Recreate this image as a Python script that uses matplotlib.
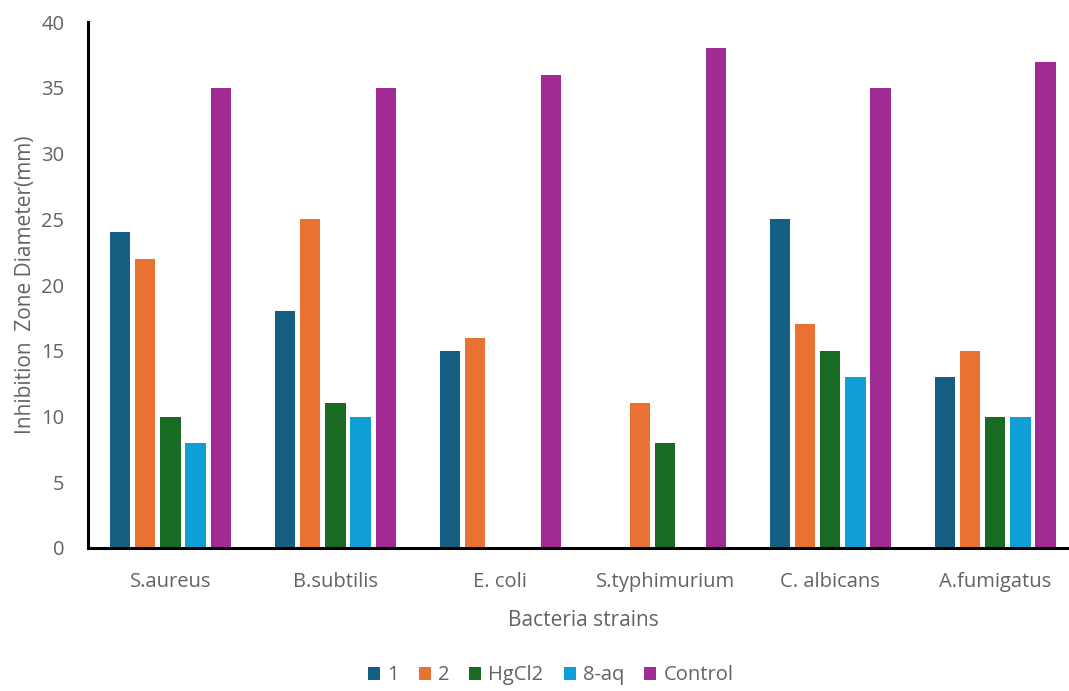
import numpy as np
import matplotlib.pyplot as plt

strains = ['S.aureus', 'B.subtilis', 'E. coli', 'S.typhimurium', 'C. albicans', 'A.fumigatus']
series_names = ['1', '2', 'HgCl2', '8-aq', 'Control']
vals_1 = [24, 18, 15, 0, 25, 13]
vals_2 = [22, 25, 16, 11, 17, 15]
vals_hgcl2 = [10, 11, 0, 8, 15, 10]
vals_8aq = [8, 10, 0, 0, 13, 10]
vals_control = [35, 35, 36, 38, 35, 37]
colors = ['#156082', '#E97132', '#196B24', '#0F9ED5', '#A02B93']

plt.rcParams['font.family'] = ['Open Sans', 'DejaVu Sans']
grey = '#636363'

fig = plt.figure(figsize=(10.69, 6.91), dpi=100)
ax = fig.add_axes([0.0823, 0.207, 0.926, 0.761])

x = np.arange(len(strains))
step = 0.152
width = 0.122
all_vals = [vals_1, vals_2, vals_hgcl2, vals_8aq, vals_control]
for i, (name, v) in enumerate(zip(series_names, all_vals)):
    ax.bar(x + (i - 2) * step, v, width, color=colors[i], label=name)

ax.set_xlim(-0.5, len(strains) - 0.5)
ax.set_ylim(0, 40)
ax.set_yticks(np.arange(0, 41, 5))
ax.set_xticks(x)
ax.set_xticklabels(strains)
ax.tick_params(axis='both', length=0, colors=grey, labelsize=14.5)
ax.tick_params(axis='y', pad=17)
ax.tick_params(axis='x', pad=17)
for s in ['top', 'right']:
    ax.spines[s].set_visible(False)
for s in ['left', 'bottom']:
    ax.spines[s].set_linewidth(2.2)
    ax.spines[s].set_color('black')

ax.set_xlabel('Bacteria strains', color=grey, fontsize=15, labelpad=13)
ax.set_ylabel('Inhibition  Zone Diameter(mm)', color=grey, fontsize=15, labelpad=4)

fig.legend(loc='lower center', bbox_to_anchor=(0.515, -0.018), ncol=5, frameon=False,
           fontsize=14.5, labelcolor=grey, handlelength=0.6, handleheight=0.6,
           handletextpad=0.35, columnspacing=1.0)

fig.savefig('out.png', dpi=100)
